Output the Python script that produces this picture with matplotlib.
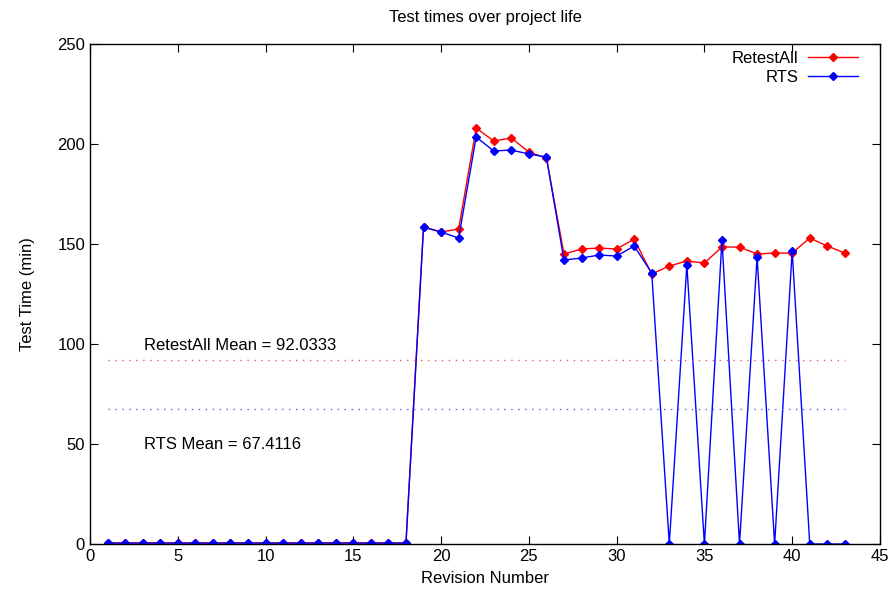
import numpy as np
import matplotlib.pyplot as plt

plt.rcParams['font.family'] = ['Liberation Sans', 'DejaVu Sans']

revisions = list(range(1, 44))
retest_all = [0.5] * 18 + [158.5, 156, 157.5, 208, 201.5, 203, 196, 193,
                           145, 147.5, 148, 147.5, 152.5, 135,
                           139, 141.5, 140.5, 148.5, 148.5, 145, 145.5, 145.5, 153, 149, 145.5]
rts = [0.5] * 18 + [158.5, 156, 153, 203.5, 196.5, 197, 195, 193.5,
                    142, 143, 144.5, 144, 149, 135.5,
                    0, 139.5, 0, 152, 0, 143.5, 0, 146.5, 0, 0, 0]
retest_mean = 92.0333
rts_mean = 67.4116

fig = plt.figure(figsize=(8.96, 5.99), dpi=100)
ax = fig.add_axes([0.1004, 0.0918, 0.8817, 0.8347])

ax.plot(revisions, retest_all, color='red', marker='D', markersize=4, lw=1, label='RetestAll')
ax.plot(revisions, rts, color='blue', marker='D', markersize=4, lw=1, label='RTS')
ax.plot([1, 43], [retest_mean, retest_mean], color='#e06060', ls=(0, (1, 4)), lw=1)
ax.plot([1, 43], [rts_mean, rts_mean], color='#6060e0', ls=(0, (1, 4)), lw=1)

ax.text(3.1, 99.5, 'RetestAll Mean = %g' % retest_mean, fontsize=12, va='center')
ax.text(3.1, 50, 'RTS Mean = %g' % rts_mean, fontsize=12, va='center')

ax.set_xlim(0, 45)
ax.set_ylim(0, 250)
ax.set_xticks(range(0, 46, 5))
ax.set_yticks(range(0, 251, 50))
ax.tick_params(direction='in', top=True, right=True, labelsize=12, length=6)
for s in ax.spines.values():
    s.set_linewidth(1)
ax.set_xlabel('Revision Number', fontsize=12, labelpad=5)
ax.set_ylabel('Test Time (min)', fontsize=12, labelpad=16)
ax.set_title('Test times over project life', fontsize=12, pad=16)
ax.legend(loc='upper right', bbox_to_anchor=(0.981, 1.0), frameon=False, markerfirst=False,
          fontsize=12, handlelength=3, handletextpad=0.6, labelspacing=0.25, borderaxespad=0)

fig.savefig('out.png', dpi=100)
